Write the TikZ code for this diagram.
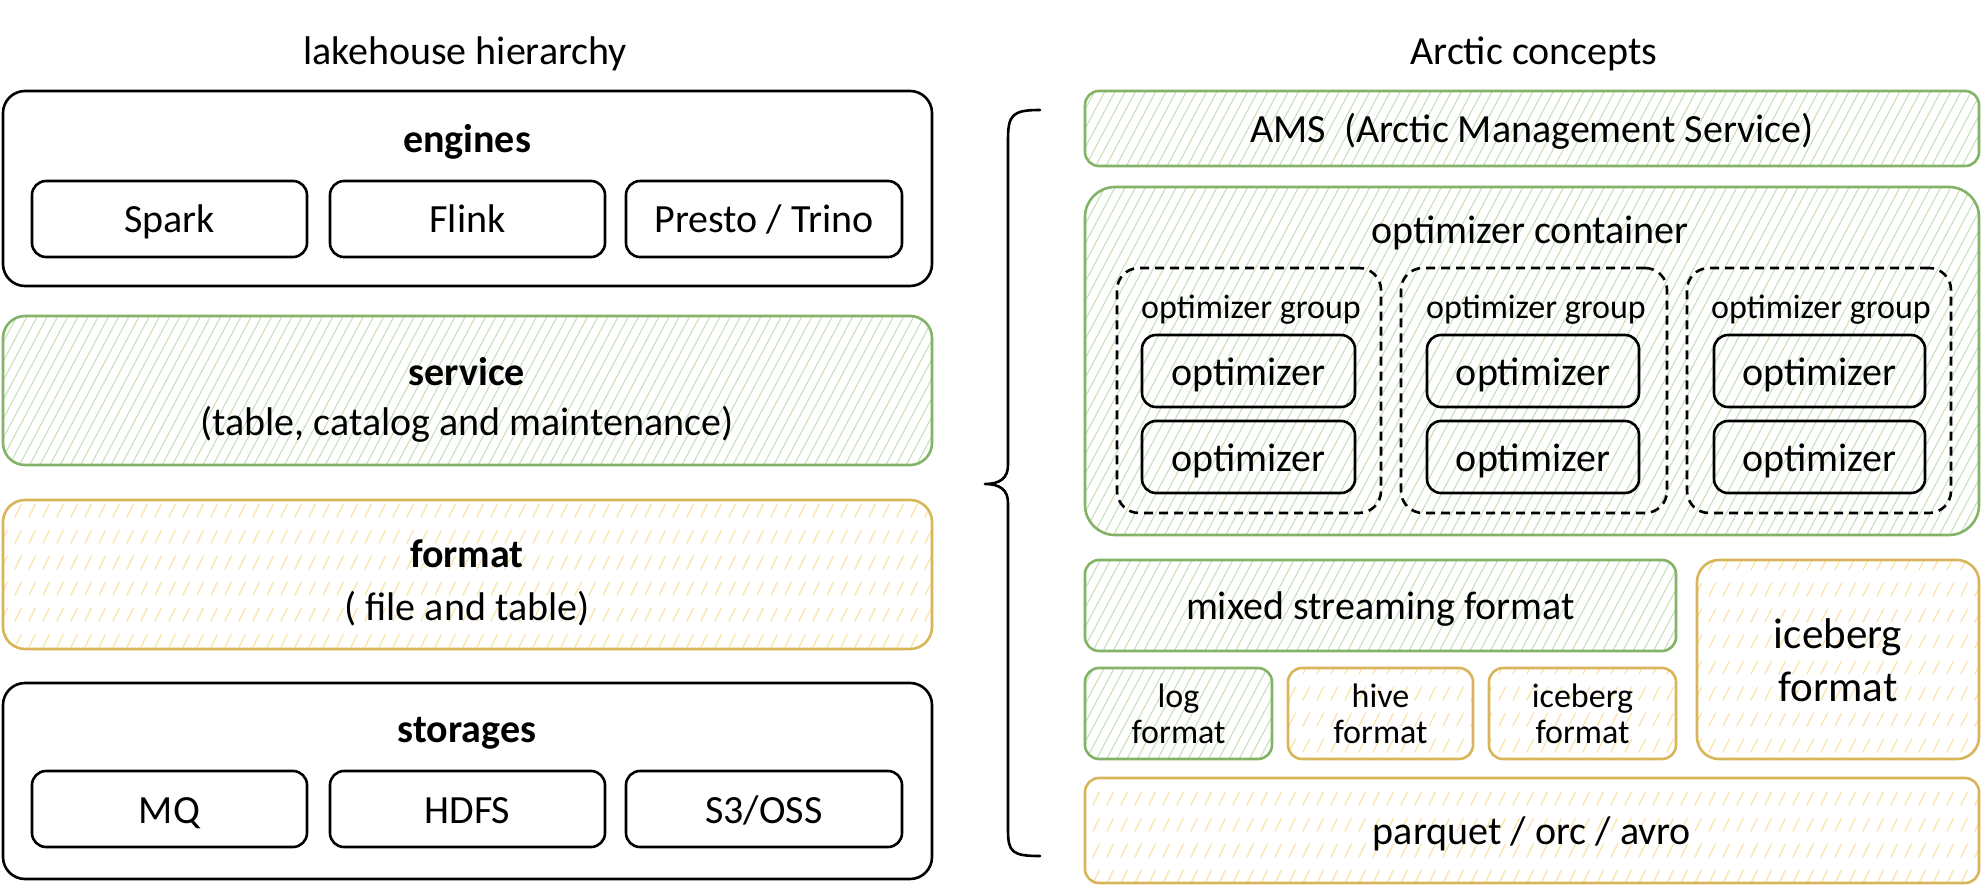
\documentclass[tikz,border=0pt]{standalone}
\usepackage{fontspec}
\setmainfont{Carlito}
\usetikzlibrary{patterns.meta}
\definecolor{gline}{HTML}{82B366}
\definecolor{ghatch}{HTML}{C6E0BB}
\definecolor{yline}{HTML}{D9B55A}
\definecolor{yhatch}{HTML}{F8E4A8}
\pgfdeclarepattern{name=ydash, type=uncolored,
  bottom left={\pgfpointorigin}, top right={\pgfpoint{14pt}{26.3pt}},
  tile size={\pgfpoint{14pt}{26.3pt}},
  code={\pgfsetlinewidth{1.3pt}\pgfsetroundcap
    \pgfpathmoveto{\pgfpoint{1pt}{1.9pt}}\pgfpathlineto{\pgfpoint{8pt}{15.2pt}}\pgfusepath{stroke}}}
\tikzset{
  txt/.style={font=\fontsize{40}{48}\selectfont, text height=28pt, text depth=0pt, inner sep=0pt, align=center},
  box/.style={txt, draw, line width=2.6pt, rounded corners=14pt},
  blk/.style={box, draw=black},
  grn/.style={box, draw=gline, pattern={Lines[angle=62,distance=9pt,line width=1.1pt]}, pattern color=ghatch},
  ylw/.style={box, draw=yline, pattern=ydash, pattern color=yhatch},
  grp/.style={draw=black, dash pattern=on 9pt off 6pt, line width=2.6pt, rounded corners=22pt, inner sep=0pt},
  small/.style={font=\fontsize{34}{34}\selectfont, text height=24pt},
  twosmall/.style={font=\fontsize{34}{36}\selectfont, text height=60pt},
  bold/.style={font=\fontsize{40}{48}\selectfont\bfseries},
}
\begin{document}
\begin{tikzpicture}[x=1pt,y=-1pt]
\useasboundingbox (0,0) rectangle (1983,885);
% titles
\node[txt] (t1) at (465,51) {lakehouse hierarchy};
\node[txt] (t2) at (1534,51) {Arctic concepts};
% left column
\node[blk, rounded corners=22pt, minimum width=929pt, minimum height=195pt] (engines) at (467.5,188.5) {};
\node[txt, bold] (enginesl) at (467,139) {engines};
\node[blk, minimum width=275pt, minimum height=76pt] (spark) at (169.5,219) {Spark};
\node[blk, minimum width=275pt, minimum height=76pt] (flink) at (467.5,219) {Flink};
\node[blk, minimum width=276pt, minimum height=76pt] (presto) at (764,219) {Presto / Trino};

\node[grn, rounded corners=22pt, minimum width=929pt, minimum height=149pt] (service) at (467.5,390.5) {};
\node[txt, bold] (servicel) at (467,371) {service};
\node[txt] (services) at (467,421) {(table, catalog and maintenance)};

\node[ylw, rounded corners=22pt, minimum width=929pt, minimum height=149pt] (format) at (467.5,574.5) {};
\node[txt, bold] (formatl) at (467,553) {format};
\node[txt] (formats) at (467,606) {( file and table)};

\node[blk, rounded corners=22pt, minimum width=929pt, minimum height=196pt] (storages) at (467.5,781) {};
\node[txt, bold] (storagesl) at (467,728) {storages};
\node[blk, minimum width=275pt, minimum height=76pt] (mq) at (169.5,809) {MQ};
\node[blk, minimum width=275pt, minimum height=76pt] (hdfs) at (467.5,809) {HDFS};
\node[blk, minimum width=276pt, minimum height=76pt] (s3) at (764,809) {S3/OSS};

% brace
\coordinate (bt) at (1040,110);
\coordinate (bm) at (985,484);
\coordinate (bb) at (1040,856);
\draw[line width=2.6pt, line cap=round, line join=round]
  (bt) .. controls (1012,110) and (1008,115) .. (1008,140) -- (1008,465)
  .. controls (1008,478) and (1000,484) .. (bm)
  .. controls (1000,484) and (1008,490) .. (1008,503) -- (1008,830)
  .. controls (1008,852) and (1012,856) .. (bb);

% right column
\node[grn, minimum width=894pt, minimum height=75pt] (ams) at (1532,128.5) {AMS\ \ (Arctic Management Service)};
\node[grn, rounded corners=30pt, minimum width=894pt, minimum height=348pt] (container) at (1532,361) {};
\node[txt] (containerl) at (1530,230) {optimizer container};

\node[grp, minimum width=264pt, minimum height=245pt] (g1) at (1249,390.5) {};
\node[grp, minimum width=266pt, minimum height=245pt] (g2) at (1534,390.5) {};
\node[grp, minimum width=264pt, minimum height=245pt] (g3) at (1819,390.5) {};
\node[txt, small] (g1l) at (1251,306) {optimizer group};
\node[txt, small] (g2l) at (1536,306) {optimizer group};
\node[txt, small] (g3l) at (1821,306) {optimizer group};

\node[blk, minimum width=213pt, minimum height=72pt] (o11) at (1248.5,371) {optimizer};
\node[blk, minimum width=213pt, minimum height=72pt] (o12) at (1248.5,457) {optimizer};
\node[blk, minimum width=212pt, minimum height=72pt] (o21) at (1533,371) {optimizer};
\node[blk, minimum width=212pt, minimum height=72pt] (o22) at (1533,457) {optimizer};
\node[blk, minimum width=211pt, minimum height=72pt] (o31) at (1819.5,371) {optimizer};
\node[blk, minimum width=211pt, minimum height=72pt] (o32) at (1819.5,457) {optimizer};

\node[grn, minimum width=591pt, minimum height=91pt] (mixed) at (1380.5,605.5) {mixed streaming format};
\node[grn, twosmall, minimum width=187pt, minimum height=91pt] (log) at (1178.5,713.5) {log\\format};
\node[ylw, twosmall, minimum width=185pt, minimum height=91pt] (hive) at (1380.5,713.5) {hive\\format};
\node[ylw, twosmall, minimum width=187pt, minimum height=91pt] (ice1) at (1582.5,713.5) {iceberg\\format};
\node[ylw, rounded corners=22pt, font=\fontsize{43}{53}\selectfont, text height=83pt, minimum width=282pt, minimum height=199pt] (ice2) at (1838,659.5) {iceberg\\format};
\node[ylw, minimum width=894pt, minimum height=105pt] (parquet) at (1532,830.5) {parquet / orc / avro};
\end{tikzpicture}
\end{document}
